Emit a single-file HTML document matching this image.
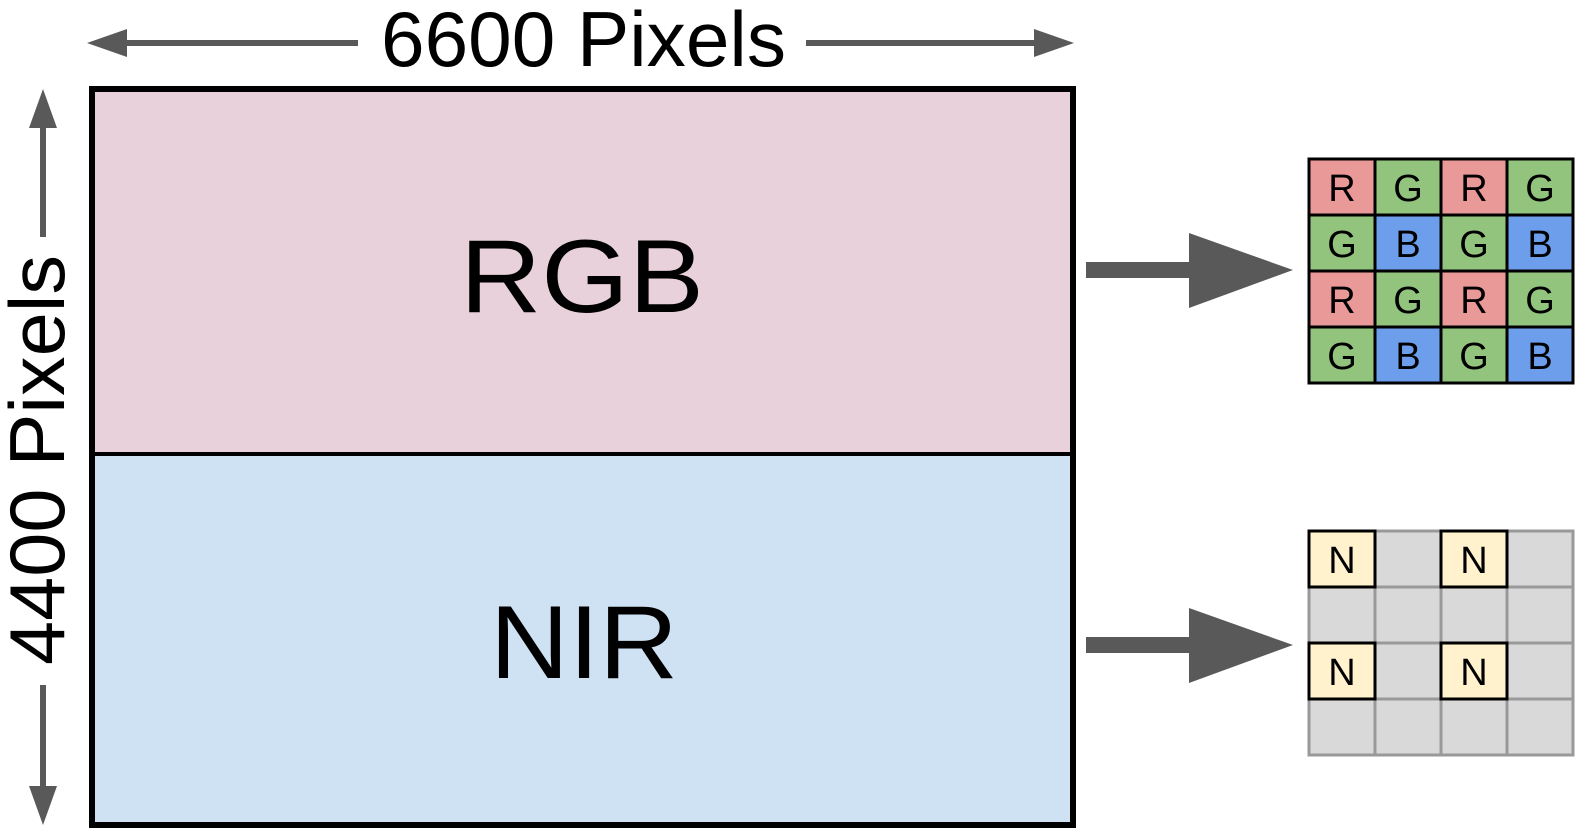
<!DOCTYPE html>
<html><head><meta charset="utf-8"><style>
html,body{margin:0;padding:0;background:#fff;}
svg{display:block;}
text{font-family:"Liberation Sans",sans-serif;}
</style></head><body>
<svg width="1581" height="839" viewBox="0 0 1581 839" xmlns="http://www.w3.org/2000/svg">
<rect x="92" y="89" width="981" height="365" fill="#e9d1dc"/>
<rect x="92" y="454" width="981" height="371" fill="#cfe2f3"/>
<rect x="92" y="89" width="981" height="736" fill="none" stroke="#000" stroke-width="6"/>
<line x1="92" y1="454" x2="1073" y2="454" stroke="#000" stroke-width="4"/>
<text x="460" y="312" font-size="104" textLength="244" lengthAdjust="spacingAndGlyphs">RGB</text>
<text x="490" y="678" font-size="104" textLength="188" lengthAdjust="spacingAndGlyphs">NIR</text>
<line x1="120" y1="43" x2="358" y2="43" stroke="#595959" stroke-width="6"/>
<polygon points="87,43 127,29 127,57" fill="#595959"/>
<line x1="806" y1="43" x2="1040" y2="43" stroke="#595959" stroke-width="6"/>
<polygon points="1074,43 1034,29 1034,57" fill="#595959"/>
<text x="381" y="66" font-size="78" textLength="405" lengthAdjust="spacingAndGlyphs">6600 Pixels</text>
<line x1="43" y1="120" x2="43" y2="237" stroke="#595959" stroke-width="6"/>
<polygon points="43,89 29,128 57,128" fill="#595959"/>
<line x1="43" y1="685" x2="43" y2="795" stroke="#595959" stroke-width="6"/>
<polygon points="43,825 29,786 57,786" fill="#595959"/>
<text transform="translate(64,665) rotate(-90)" font-size="78" textLength="410" lengthAdjust="spacingAndGlyphs">4400 Pixels</text>
<rect x="1086" y="262" width="105" height="16" fill="#595959"/>
<polygon points="1189,233 1293,270 1189,308" fill="#595959"/>
<rect x="1086" y="637" width="105" height="16" fill="#595959"/>
<polygon points="1189,608 1293,645 1189,683" fill="#595959"/>
<g stroke="#000" stroke-width="3">
<rect x="1309" y="159" width="66" height="56" fill="#ea9999"/>
<rect x="1375" y="159" width="66" height="56" fill="#93c47d"/>
<rect x="1441" y="159" width="66" height="56" fill="#ea9999"/>
<rect x="1507" y="159" width="66" height="56" fill="#93c47d"/>
<rect x="1309" y="215" width="66" height="56" fill="#93c47d"/>
<rect x="1375" y="215" width="66" height="56" fill="#6d9eeb"/>
<rect x="1441" y="215" width="66" height="56" fill="#93c47d"/>
<rect x="1507" y="215" width="66" height="56" fill="#6d9eeb"/>
<rect x="1309" y="271" width="66" height="56" fill="#ea9999"/>
<rect x="1375" y="271" width="66" height="56" fill="#93c47d"/>
<rect x="1441" y="271" width="66" height="56" fill="#ea9999"/>
<rect x="1507" y="271" width="66" height="56" fill="#93c47d"/>
<rect x="1309" y="327" width="66" height="56" fill="#93c47d"/>
<rect x="1375" y="327" width="66" height="56" fill="#6d9eeb"/>
<rect x="1441" y="327" width="66" height="56" fill="#93c47d"/>
<rect x="1507" y="327" width="66" height="56" fill="#6d9eeb"/>
</g>
<g font-size="38" text-anchor="middle" fill="#000">
<text x="1342" y="201">R</text><text x="1408" y="201">G</text><text x="1474" y="201">R</text><text x="1540" y="201">G</text>
<text x="1342" y="257">G</text><text x="1408" y="257">B</text><text x="1474" y="257">G</text><text x="1540" y="257">B</text>
<text x="1342" y="313">R</text><text x="1408" y="313">G</text><text x="1474" y="313">R</text><text x="1540" y="313">G</text>
<text x="1342" y="369">G</text><text x="1408" y="369">B</text><text x="1474" y="369">G</text><text x="1540" y="369">B</text>
</g>
<g fill="#d9d9d9" stroke="#999" stroke-width="3">
<rect x="1309" y="531" width="66" height="56"/><rect x="1375" y="531" width="66" height="56"/><rect x="1441" y="531" width="66" height="56"/><rect x="1507" y="531" width="66" height="56"/>
<rect x="1309" y="587" width="66" height="56"/><rect x="1375" y="587" width="66" height="56"/><rect x="1441" y="587" width="66" height="56"/><rect x="1507" y="587" width="66" height="56"/>
<rect x="1309" y="643" width="66" height="56"/><rect x="1375" y="643" width="66" height="56"/><rect x="1441" y="643" width="66" height="56"/><rect x="1507" y="643" width="66" height="56"/>
<rect x="1309" y="699" width="66" height="56"/><rect x="1375" y="699" width="66" height="56"/><rect x="1441" y="699" width="66" height="56"/><rect x="1507" y="699" width="66" height="56"/>
</g>
<g fill="#fff2cc" stroke="#000" stroke-width="3">
<rect x="1309" y="531" width="66" height="56"/><rect x="1441" y="531" width="66" height="56"/>
<rect x="1309" y="643" width="66" height="56"/><rect x="1441" y="643" width="66" height="56"/>
</g>
<g font-size="38" text-anchor="middle" fill="#000">
<text x="1342" y="573">N</text><text x="1474" y="573">N</text>
<text x="1342" y="685">N</text><text x="1474" y="685">N</text>
</g>
</svg>
</body></html>
